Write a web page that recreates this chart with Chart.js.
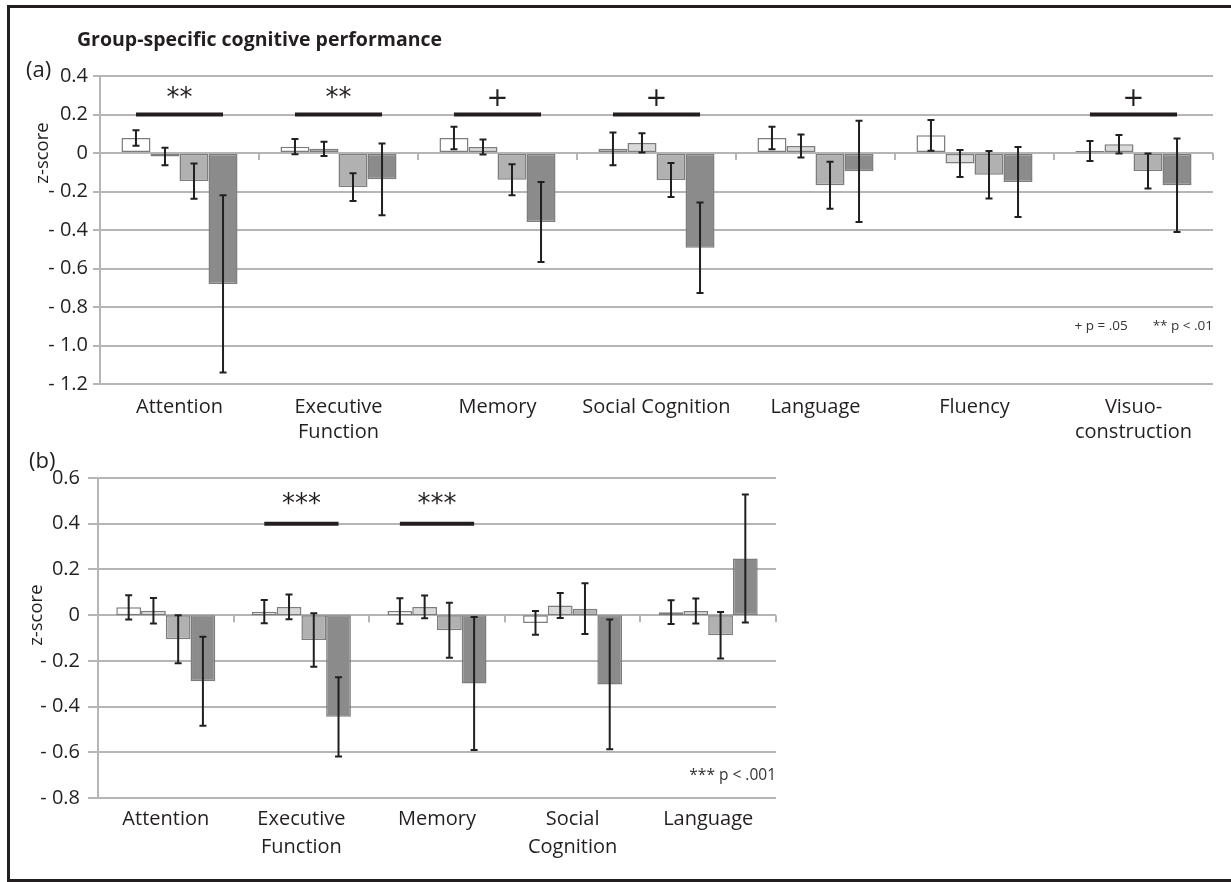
<!DOCTYPE html>
<html>
<head>
<meta charset="utf-8">
<title>Group-specific cognitive performance</title>
<script src="https://cdn.jsdelivr.net/npm/chart.js@4.4.1/dist/chart.umd.min.js"></script>
<style>
  html, body { margin: 0; padding: 0; background: #fff; }
  #page { position: relative; width: 1231px; height: 882px; overflow: hidden; }
  #frame { position: absolute; left: 7px; top: 5px; width: 1250px; height: 877px;
           border: 3px solid #231f20; box-sizing: border-box; }
  #chartA { position: absolute; left: 0; top: 0; }
  #chartB { position: absolute; left: 0; top: 445px; }
</style>
</head>
<body>
<div id="page">
  <div id="frame"></div>
  <canvas id="chartA" width="1231" height="445"></canvas>
  <canvas id="chartB" width="1231" height="437"></canvas>
</div>
<script>
// ---- Panel (a): domains, group means and error ranges ----
const categoriesA = [['Attention'], ['Executive', 'Function'], ['Memory'], ['Social Cognition'],
                     ['Language'], ['Fluency'], ['Visuo-', 'construction']];
const group1A = [0.078, 0.033, 0.078, 0.022, 0.078, 0.092, 0.010];
const group2A = [-0.018, 0.022, 0.031, 0.052, 0.036, -0.055, 0.045];
const group3A = [-0.146, -0.177, -0.139, -0.140, -0.168, -0.113, -0.094];
const group4A = [-0.680, -0.137, -0.358, -0.492, -0.095, -0.151, -0.168];
const err1A = [0.040, 0.040, 0.058, 0.085, 0.058, 0.080, 0.052];
const err2A = [0.045, 0.037, 0.039, 0.050, 0.060, 0.070, 0.048];
const err3A = [0.092, 0.072, 0.080, 0.088, 0.122, 0.124, 0.091];
const err4A = [0.460, 0.187, 0.208, 0.235, 0.263, 0.182, 0.243];
const sigA = ['**', '**', '+', '+', '', '', '+'];
const yTickValuesA = [0.4, 0.2, 0, -0.2, -0.4, -0.6, -0.8, -1.0, -1.2];
const yTicksA = ['0.4', '0.2', '0', '- 0.2', '- 0.4', '- 0.6', '- 0.8', '- 1.0', '- 1.2'];

// ---- Panel (b) ----
const categoriesB = [['Attention'], ['Executive', 'Function'], ['Memory'], ['Social', 'Cognition'], ['Language']];
const group1B = [0.034, 0.015, 0.018, -0.034, 0.013];
const group2B = [0.019, 0.036, 0.036, 0.042, 0.018];
const group3B = [-0.105, -0.109, -0.066, 0.028, -0.088];
const group4B = [-0.289, -0.445, -0.299, -0.303, 0.248];
const err1B = [0.053, 0.051, 0.056, 0.052, 0.052];
const err2B = [0.056, 0.054, 0.050, 0.055, 0.055];
const err3B = [0.105, 0.117, 0.120, 0.111, 0.102];
const err4B = [0.195, 0.173, 0.291, 0.284, 0.280];
const sigB = ['', '***', '***', '', ''];
const yTickValuesB = [0.6, 0.4, 0.2, 0, -0.2, -0.4, -0.6, -0.8];
const yTicksB = ['0.6', '0.4', '0.2', '0', '- 0.2', '- 0.4', '- 0.6', '- 0.8'];

const groupNames = ['Group 1', 'Group 2', 'Group 3', 'Group 4'];
const fills = ['#ffffff', '#d9d9d9', '#b1b1b1', '#8b8b8b'];

const FONT = '"Open Sans", "Noto Sans", sans-serif';
const INK = '#231f20';
const GRID = '#b5b5b5';

Chart.defaults.font.family = FONT;
Chart.defaults.color = INK;

// Vertical error bars with caps, drawn over each bar
const errorBars = {
  id: 'errorBars',
  afterDatasetsDraw(chart, args, opts) {
    const ctx = chart.ctx, y = chart.scales.y;
    ctx.save();
    ctx.strokeStyle = INK;
    ctx.lineWidth = 2;
    chart.data.datasets.forEach((ds, di) => {
      const meta = chart.getDatasetMeta(di);
      meta.data.forEach((bar, i) => {
        const v = ds.data[i], e = opts.errors[di][i];
        const yt = y.getPixelForValue(v + e), yb = y.getPixelForValue(v - e);
        const cap = 3.5;
        ctx.beginPath();
        ctx.moveTo(bar.x, yt); ctx.lineTo(bar.x, yb);
        ctx.moveTo(bar.x - cap, yt); ctx.lineTo(bar.x + cap, yt);
        ctx.moveTo(bar.x - cap, yb); ctx.lineTo(bar.x + cap, yb);
        ctx.stroke();
      });
    });
    ctx.restore();
  }
};

// Small tick marks hanging from the zero line at category boundaries
const zeroTicks = {
  id: 'zeroTicks',
  beforeDatasetsDraw(chart) {
    const ctx = chart.ctx, x = chart.scales.x, y = chart.scales.y;
    const n = chart.data.labels.length;
    const half = (x.getPixelForValue(1) - x.getPixelForValue(0)) / 2;
    const y0 = y.getPixelForValue(0);
    ctx.save();
    ctx.strokeStyle = GRID;
    ctx.lineWidth = 2;
    for (let i = 1; i <= n; i++) {
      const px = Math.round(x.getPixelForValue(i - 1) + half);
      ctx.beginPath();
      ctx.moveTo(px, y0);
      ctx.lineTo(px, y0 + 7);
      ctx.stroke();
    }
    ctx.restore();
  }
};

// Significance brackets spanning a domain's four bars, with their marker above
const significance = {
  id: 'significance',
  afterDatasetsDraw(chart, args, opts) {
    const ctx = chart.ctx, y = chart.scales.y;
    const first = chart.getDatasetMeta(0), last = chart.getDatasetMeta(chart.data.datasets.length - 1);
    ctx.save();
    opts.marks.forEach((m, i) => {
      if (!m) return;
      const x1 = first.data[i].x, x2 = last.data[i].x;
      const ly = y.getPixelForValue(opts.lineAt);
      ctx.strokeStyle = INK;
      ctx.lineWidth = 4;
      ctx.beginPath();
      ctx.moveTo(x1, ly); ctx.lineTo(x2, ly);
      ctx.stroke();
      ctx.fillStyle = INK;
      ctx.textAlign = 'center';
      ctx.textBaseline = 'middle';
      ctx.font = opts.font;
      ctx.fillText(m, (x1 + x2) / 2, y.getPixelForValue(opts.textAt) + opts.textShift);
    });
    ctx.restore();
  }
};

// Panel letters, heading, axis title and footnotes
const panelText = {
  id: 'panelText',
  afterDraw(chart, args, opts) {
    const ctx = chart.ctx, y = chart.scales.y, area = chart.chartArea;
    ctx.save();
    ctx.fillStyle = INK;
    ctx.textBaseline = 'middle';
    if (opts.heading) {
      ctx.font = 'bold 19.5px ' + FONT;
      ctx.textAlign = 'left';
      ctx.fillText(opts.heading, opts.headingX, opts.headingY);
    }
    ctx.font = '22px ' + FONT;
    ctx.textAlign = 'left';
    ctx.fillText(opts.letter, opts.letterX, opts.letterY);

    // rotated axis title centred on the zero line
    ctx.save();
    ctx.translate(opts.axisTitleX, y.getPixelForValue(0));
    ctx.rotate(-Math.PI / 2);
    ctx.textAlign = 'center';
    ctx.font = '18.5px ' + FONT;
    ctx.fillText('z-score', 0, 0);
    ctx.restore();

    ctx.font = opts.noteFont;
    ctx.textAlign = 'right';
    ctx.fillStyle = '#333';
    let xr = area.right;
    for (let k = opts.notes.length - 1; k >= 0; k--) {
      ctx.fillText(opts.notes[k], xr, y.getPixelForValue(opts.notesAt));
      xr -= ctx.measureText(opts.notes[k]).width + opts.noteGap;
    }
    ctx.restore();
  }
};

function makeDatasets(series) {
  return series.map((data, k) => ({
    label: groupNames[k],
    data: data,
    backgroundColor: fills[k],
    borderColor: '#7d7d7d',
    borderWidth: 1.5,
    borderSkipped: false,
    categoryPercentage: 0.73,
    barPercentage: 1.0
  }));
}

function tickLabel(values, labels) {
  return v => {
    const i = values.findIndex(t => Math.abs(t - v) < 1e-6);
    return i >= 0 ? labels[i] : '';
  };
}

function buildChart(canvas, cfg) {
  return new Chart(canvas, {
    type: 'bar',
    data: { labels: cfg.categories, datasets: makeDatasets(cfg.series) },
    options: {
      responsive: false,
      animation: false,
      devicePixelRatio: 1,
      layout: { padding: cfg.padding },
      plugins: {
        legend: { display: false },
        tooltip: { enabled: false },
        errorBars: { errors: cfg.errors },
        significance: cfg.sig,
        panelText: cfg.text
      },
      scales: {
        x: {
          grid: { display: false, drawTicks: false },
          border: { display: false },
          ticks: {
            color: INK, padding: cfg.xPad, maxRotation: 0, autoSkip: false,
            font: { size: 20, family: FONT, lineHeight: cfg.xLineHeight }
          },
          afterFit: s => { s.height = cfg.xHeight; }
        },
        y: {
          min: cfg.min, max: cfg.max,
          grid: { color: GRID, lineWidth: 2, tickLength: cfg.tickLen },
          border: { color: GRID, width: 2 },
          ticks: {
            stepSize: 0.2, color: INK, padding: cfg.yPad,
            font: { size: 20, family: FONT },
            callback: tickLabel(cfg.tickValues, cfg.tickLabels)
          },
          afterFit: s => { s.width = cfg.yWidth; }
        }
      }
    },
    plugins: [zeroTicks, errorBars, significance, panelText]
  });
}

buildChart(document.getElementById('chartA'), {
  categories: categoriesA,
  series: [group1A, group2A, group3A, group4A],
  errors: [err1A, err2A, err3A, err4A],
  min: -1.2, max: 0.4,
  tickValues: yTickValuesA, tickLabels: yTicksA,
  padding: { left: 0, right: 18, top: 76, bottom: 0 },
  yWidth: 100, xHeight: 61, tickLen: 7, yPad: 5,
  xPad: 11, xLineHeight: 1.235,
  sig: { marks: sigA, lineAt: 0.2, textAt: 0.3, textShift: 4, font: '26px "DejaVu Sans", sans-serif' },
  text: {
    heading: 'Group-specific cognitive performance', headingX: 77, headingY: 40,
    letter: '(a)', letterX: 26, letterY: 71,
    axisTitleX: 43,
    notes: ['+ p = .05', '** p < .01'], notesAt: -0.9, noteGap: 25, noteFont: '13.5px ' + FONT
  }
});

buildChart(document.getElementById('chartB'), {
  categories: categoriesB,
  series: [group1B, group2B, group3B, group4B],
  errors: [err1B, err2B, err3B, err4B],
  min: -0.8, max: 0.6,
  tickValues: yTickValuesB, tickLabels: yTicksB,
  padding: { left: 0, right: 455, top: 33, bottom: 0 },
  yWidth: 98, xHeight: 84, tickLen: 10, yPad: 8,
  xPad: 7, xLineHeight: 1.42,
  sig: { marks: sigB, lineAt: 0.4, textAt: 0.5, textShift: 4, font: '26px "DejaVu Sans", sans-serif' },
  text: {
    heading: '', letter: '(b)', letterX: 29, letterY: 17,
    axisTitleX: 37,
    notes: ['*** p < .001'], notesAt: -0.7, noteGap: 0, noteFont: '15.5px ' + FONT
  }
});
</script>
</body>
</html>
